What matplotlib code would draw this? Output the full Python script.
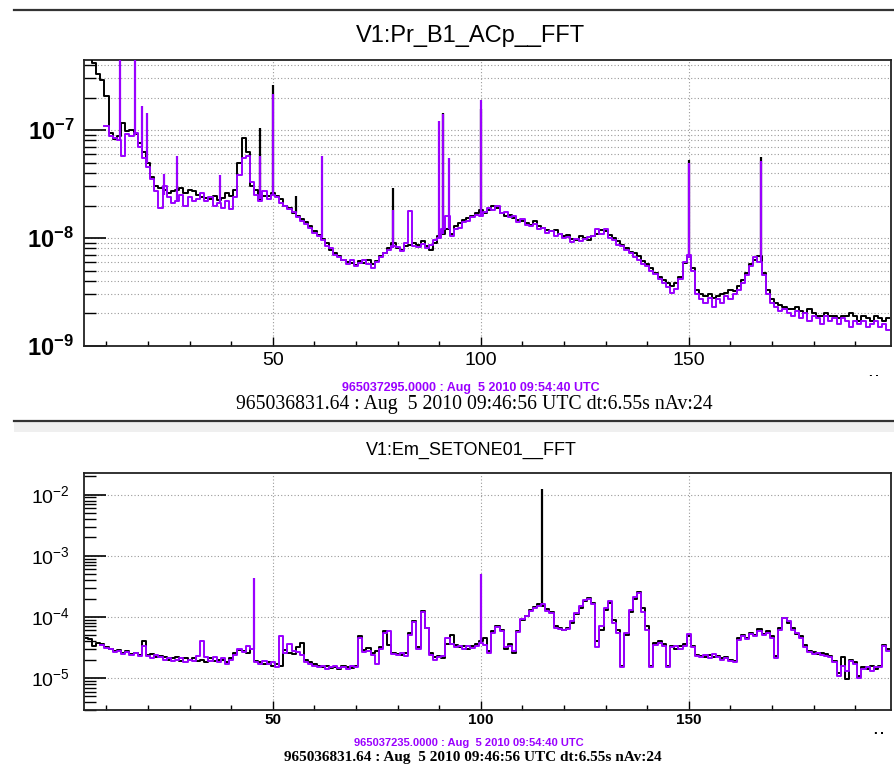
import numpy as np
import matplotlib
matplotlib.use('Agg')
import matplotlib.pyplot as plt
from matplotlib.lines import Line2D
from matplotlib.patches import Rectangle
from matplotlib.ticker import LogLocator, FixedLocator, FuncFormatter, NullFormatter
from matplotlib.transforms import Bbox, TransformedBbox

plt.rcParams['font.family'] = ['Liberation Sans', 'DejaVu Sans']
plt.rcParams['mathtext.fontset'] = 'custom'
plt.rcParams['mathtext.rm'] = 'Liberation Sans'
plt.rcParams['mathtext.bf'] = 'Liberation Sans:bold'

PURPLE = '#9a00ff'
W, H = 895, 766
nan = np.nan

# frequency bins (Hz), one per Hz from 5 to 198
freq = np.arange(5, 199)

# ---- V1:Pr_B1_ACp__FFT, in units of 1e-8 ----
pr_black = [
    48, 46, 42, 33, 29, 20.7, 9.4, 8.2, 8.8, 11.7,            # 5-14
    9.8, 10.1, 9.1, 7.6, 6.2, 5.0, 3.7, 3.0, 2.9, 2.8,        # 15-24
    2.6, 2.7, 2.8, 2.9, 2.6, 2.8, 2.7, 2.5, 2.4, 2.35,        # 25-34
    2.3, 2.45, 2.25, 2.35, 2.6, 2.45, 2.8, 5.0, 8.5, 6.2,     # 35-44
    3.0, 2.8, 2.3, 2.45, 2.45, 2.6, 2.45, 2.3, 1.97, 1.9,     # 45-54
    1.71, 1.6, 1.5, 1.4, 1.3, 1.15, 1.07, 0.97, 0.9, 0.78,    # 55-64
    0.73, 0.68, 0.63, 0.6, 0.59, 0.56, 0.61, 0.59, 0.63, 0.58,  # 65-74
    0.61, 0.68, 0.73, 0.8, 0.9, 0.81, 0.78, 0.84, 0.87, 0.9,  # 75-84
    0.87, 0.93, 0.84, 0.78, 0.9, 1.04, 1.1, 1.2, 1.1, 1.28,   # 85-94
    1.38, 1.48, 1.53, 1.6, 1.7, 1.83, 1.7, 1.83, 1.97, 1.9,   # 95-104
    1.7, 1.6, 1.65, 1.53, 1.48, 1.43, 1.38, 1.33, 1.43, 1.28,  # 105-114
    1.24, 1.19, 1.15, 1.19, 1.1, 1.04, 1.07, 0.98, 0.96, 1.04,  # 115-124
    1.0, 0.96, 1.04, 1.1, 1.19, 1.15, 1.07, 1.0, 0.93, 0.87,  # 125-134
    0.81, 0.75, 0.73, 0.68, 0.61, 0.57, 0.53, 0.47, 0.44, 0.41,  # 135-144
    0.38, 0.36, 0.38, 0.44, 0.59, 0.68, 0.53, 0.33, 0.3, 0.29,  # 145-154
    0.3, 0.28, 0.29, 0.3, 0.31, 0.33, 0.32, 0.36, 0.41, 0.47,  # 155-164
    0.57, 0.63, 0.68, 0.47, 0.33, 0.27, 0.25, 0.24, 0.23, 0.22,  # 165-174
    0.22, 0.23, 0.21, 0.2, 0.22, 0.2, 0.19, 0.19, 0.2, 0.19,  # 175-184
    0.19, 0.18, 0.19, 0.19, 0.2, 0.19, 0.17, 0.19, 0.18, 0.17,  # 185-194
    0.19, 0.18, 0.17, 0.18,                                    # 195-198
]
pr_purple = [
    nan, nan, nan, nan, nan, 11.0, 8.8, 8.5, 8.0, 5.7,
    9.1, 8.8, 9.4, 7.0, 5.5, 4.5, 3.5, 2.7, 1.9, 3.0,
    2.4, 2.1, 2.2, 2.5, 2.0, 2.4, 2.2, 2.3, 2.6, 2.2,
    2.4, 2.0, 2.1, 1.9, 2.2, 1.85, 2.4, 3.8, 5.5, 5.8,
    3.3, 2.5, 2.2, 2.7, 2.3, 2.5, 2.4, 2.1, 2.0, 1.85,
    1.75, 1.55, 1.45, 1.35, 1.25, 1.12, 1.04, 0.95, 0.85, 0.8,
    0.7, 0.66, 0.62, 0.58, 0.62, 0.55, 0.59, 0.62, 0.57, 0.53,
    0.6, 0.66, 0.72, 0.78, 0.85, 0.82, 0.76, 0.9, 1.77, 0.85,
    0.82, 0.88, 0.8, 0.86, 0.95, 1.0, 1.2, 1.6, 1.05, 1.2,
    1.25, 1.4, 1.45, 1.55, 1.65, 1.6, 1.75, 1.9, 1.8, 2.0,
    1.7, 1.75, 1.55, 1.6, 1.4, 1.5, 1.33, 1.3, 1.35, 1.2,
    1.25, 1.12, 1.15, 1.05, 1.1, 1.0, 1.02, 0.92, 0.97, 0.93,
    0.98, 1.02, 1.05, 1.2, 1.1, 1.2, 1.0, 0.95, 0.87, 0.84,
    0.78, 0.72, 0.67, 0.63, 0.58, 0.55, 0.5, 0.46, 0.42, 0.38,
    0.35, 0.31, 0.34, 0.42, 0.6, 0.7, 0.5, 0.3, 0.27, 0.25,
    0.28, 0.23, 0.27, 0.25, 0.29, 0.27, 0.3, 0.33, 0.38, 0.45,
    0.55, 0.66, 0.6, 0.45, 0.3, 0.25, 0.23, 0.21, 0.22, 0.2,
    0.19, 0.21, 0.18, 0.2, 0.17, 0.19, 0.18, 0.16, 0.19, 0.17,
    0.18, 0.16, 0.18, 0.17, 0.15, 0.17, 0.16, 0.17, 0.15, 0.16,
    0.17, 0.15, 0.16, 0.14,
]
# narrow lines: (freq Hz, floor, peak), same units
pr_black_lines = [(46.8, 2.4, 10.5), (50.0, 2.6, 26), (55.5, 1.7, 2.44),
                  (78.9, 0.85, 2.9), (90.9, 1.1, 14.5), (100.0, 1.8, 15.6),
                  (150.0, 0.65, 5.3), (167.3, 0.65, 5.6)]
pr_purple_lines = [(13.3, 8.0, 60), (16.8, 9.0, 60), (18.6, 7.0, 16.7),
                   (19.8, 5.0, 14.5), (23.8, 2.5, 3.9), (27.0, 2.2, 5.7),
                   (37.3, 2.1, 3.8), (46.8, 2.3, 5.7), (50.0, 2.5, 21.4),
                   (61.9, 1.0, 5.7), (78.9, 0.8, 1.83), (90.0, 1.0, 12.0),
                   (90.9, 1.1, 14.0), (92.3, 1.2, 5.5), (100.0, 1.6, 19.0),
                   (150.0, 0.65, 5.0), (167.3, 0.6, 5.2)]

# ---- V1:Em_SETONE01__FFT, in units of 1e-5 ----
em_black = [
    4.6, 4.3, 3.4, 3.7, 3.6, 3.2, 3.0, 2.8, 2.9, 2.6,         # 5-14
    2.8, 2.5, 2.6, 2.4, 4.0, 2.4, 2.5, 2.2, 2.3, 2.2,         # 15-24
    2.0, 2.1, 2.2, 1.9, 2.1, 2.0, 2.1, 1.9, 2.0, 1.8,         # 25-34
    2.1, 1.9, 2.0, 2.0, 1.8, 2.1, 2.6, 2.9, 2.8, 2.6,         # 35-44
    3.0, 1.9, 1.8, 1.7, 1.8, 1.6, 1.7, 1.6, 2.9, 2.6,         # 45-54
    2.5, 3.2, 3.8, 2.0, 1.8, 1.7, 1.6, 1.5, 1.6, 1.45,        # 55-64
    1.5, 1.4, 1.6, 1.5, 1.45, 1.55, 4.9, 2.9, 3.1, 2.6,       # 65-74
    2.8, 3.2, 5.9, 3.5, 2.6, 2.5, 2.4, 2.6, 5.5, 8.6,         # 75-84
    3.2, 12.4, 6.7, 2.6, 2.2, 2.3, 2.1, 3.6, 5.0, 3.5,        # 85-94
    3.2, 3.4, 3.0, 3.3, 3.6, 4.0, 4.6, 2.8, 5.9, 7.0,         # 95-104
    6.2, 3.0, 3.6, 2.6, 5.9, 9.0, 10.5, 13.0, 14.5, 16.0,     # 105-114
    15.0, 13.5, 12.0, 7.0, 6.5, 6.0, 6.5, 8.0, 11.0, 14.0,    # 115-124
    18.0, 20.5, 17.0, 4.0, 6.0, 13.0, 17.0, 9.0, 6.0, 1.6,    # 125-134
    5.0, 12.0, 20.0, 26.0, 14.0, 7.0, 1.6, 3.8, 4.1, 3.6,     # 135-144
    1.6, 3.4, 3.0, 3.3, 3.6, 4.8, 3.4, 2.4, 2.3, 2.2,         # 145-154
    2.4, 2.2, 2.3, 2.1, 2.2, 2.0, 1.9, 4.5, 5.0, 4.6,         # 155-164
    5.5, 5.0, 6.3, 5.2, 5.8, 4.8, 2.3, 6.5, 9.5, 8.0,         # 165-174
    6.5, 5.2, 4.8, 3.5, 2.8, 2.7, 2.5, 2.6, 2.5, 2.3,         # 175-184
    1.9, 1.2, 2.2, 0.96, 2.0, 1.8, 1.1, 1.5, 1.4, 1.6,        # 185-194
    1.4, 1.6, 3.5, 3.0,                                        # 195-198
]
em_purple = [
    nan, nan, nan, nan, 3.5, 3.1, 3.0, 2.7, 2.8, 2.5,
    2.7, 2.4, 2.6, 2.3, 3.3, 2.3, 2.1, 2.4, 2.2, 2.0,
    2.1, 1.9, 2.0, 2.1, 1.8, 2.0, 1.9, 2.3, 4.0, 2.2,
    1.9, 2.2, 1.8, 2.1, 1.7, 2.0, 2.4, 3.0, 2.7, 3.3,
    3.0, 1.8, 1.7, 1.9, 1.7, 1.8, 1.5, 4.9, 2.6, 3.6,
    2.8, 2.7, 2.4, 1.8, 1.7, 1.6, 1.5, 1.55, 1.4, 1.5,
    1.6, 1.45, 1.5, 1.4, 1.6, 1.5, 4.6, 2.7, 2.8, 2.4,
    1.7, 3.0, 5.5, 5.9, 2.5, 2.4, 2.6, 2.3, 5.0, 8.4,
    3.0, 12.0, 6.5, 2.4, 2.0, 2.2, 2.3, 4.5, 3.6, 3.2,
    3.4, 3.0, 3.3, 3.1, 3.4, 3.8, 3.5, 2.6, 5.5, 6.8,
    5.8, 3.2, 3.4, 2.8, 5.6, 9.2, 10.2, 12.5, 14.0, 15.0,
    16.0, 12.5, 11.5, 6.6, 6.3, 6.1, 6.3, 8.5, 11.5, 15.0,
    19.0, 19.5, 16.0, 3.2, 7.0, 14.0, 18.0, 8.0, 5.5, 1.5,
    5.5, 13.0, 21.0, 25.0, 12.0, 6.0, 1.5, 3.5, 3.8, 3.4,
    1.5, 3.2, 3.3, 3.0, 3.4, 5.2, 3.2, 2.3, 2.2, 2.4,
    2.1, 2.5, 2.2, 2.0, 2.1, 1.9, 1.8, 4.2, 4.8, 4.4,
    5.2, 4.8, 5.8, 5.0, 5.5, 4.5, 2.1, 6.0, 9.7, 8.5,
    6.0, 5.5, 4.5, 3.2, 2.7, 2.5, 2.6, 2.4, 2.3, 2.2,
    1.8, 1.1, 1.6, 1.3, 1.9, 1.7, 1.0, 1.4, 1.5, 1.3,
    1.5, 1.5, 3.3, 2.8,
]
em_black_lines = [(114.8, 15.0, 1260)]
em_purple_lines = [(45.4, 3.0, 43.8), (100.0, 3.8, 50.9)]

xticks_major = [50, 100, 150]
xticks_minor = list(range(10, 200, 10))


def fy(px):
    return 1 - px / H


def clipped_text(fig, x, y, s, y_cut, **kw):
    t = fig.text(x / W, fy(y), s, **kw)
    box = Bbox([[0, fy(y_cut)], [1, 1]])
    t.set_clip_box(TransformedBbox(box, fig.transFigure))
    t.set_clip_on(True)
    return t


def draw_panel(ax, black, purple, black_lines, purple_lines, scale, ylim,
               minor_grid, ylab_bold, ylab_size, xlab_bold, xlab_size, ypad, xpad):
    # ROOT draws the spectra as histograms
    ax.plot(freq, np.array(black) * scale, color='black', lw=1.4,
            drawstyle='steps-mid', zorder=3)
    for f, lo, hi in black_lines:
        ax.vlines(f, lo * scale, hi * scale, color='black', lw=1.6, zorder=3)
    ax.plot(freq, np.array(purple) * scale, color=PURPLE, lw=1.4,
            drawstyle='steps-mid', zorder=4)
    for f, lo, hi in purple_lines:
        ax.vlines(f, lo * scale, hi * scale, color=PURPLE, lw=1.6, zorder=4)

    ax.set_yscale('log')
    ax.set_xlim(4.6, 198.6)
    ax.set_ylim(*ylim)

    ax.xaxis.set_major_locator(FixedLocator(xticks_major))
    ax.xaxis.set_minor_locator(FixedLocator(xticks_minor))
    ax.yaxis.set_major_locator(LogLocator(base=10, numticks=20))
    ax.yaxis.set_minor_locator(LogLocator(base=10, subs=np.arange(2, 10), numticks=20))
    ax.yaxis.set_minor_formatter(NullFormatter())
    if ylab_bold:
        fmt = FuncFormatter(lambda v, p: r'$\mathbf{10^{%d}}$' % round(np.log10(v)))
    else:
        fmt = FuncFormatter(lambda v, p: r'$10^{%d}$' % round(np.log10(v)))
    ax.yaxis.set_major_formatter(fmt)

    ax.tick_params(axis='y', which='major', direction='in', length=16, width=1.2,
                   labelsize=ylab_size, pad=ypad)
    ax.tick_params(axis='y', which='minor', direction='in', length=8.5, width=1.0)
    ax.tick_params(axis='x', which='major', direction='in', length=6.5, width=1.0,
                   labelsize=xlab_size, pad=xpad)
    ax.tick_params(axis='x', which='minor', direction='in', length=3.8, width=1.0)
    for lab in ax.get_xticklabels():
        lab.set_fontweight('bold' if xlab_bold else 'normal')

    dots = dict(color='#9a9a9a', linestyle=(0, (1, 2)), linewidth=0.8)
    ax.grid(True, which='major', axis='x', **dots)
    ax.grid(True, which='major', axis='y', **dots)
    if minor_grid:
        ax.grid(True, which='minor', axis='y', **dots)
    for sp in ax.spines.values():
        sp.set_linewidth(1.3)
        sp.set_color('#222222')


fig = plt.figure(figsize=(W / 100, H / 100), dpi=100)

# window decorations
fig.add_artist(Line2D([14 / W, 1], [fy(10), fy(10)], transform=fig.transFigure,
                      color='#333333', lw=1.6))
fig.add_artist(Rectangle((14 / W, fy(432)), 1, 11 / H, transform=fig.transFigure,
                         facecolor='#efefef', edgecolor='none'))
fig.add_artist(Line2D([14 / W, 1], [fy(420.5), fy(420.5)], transform=fig.transFigure,
                      color='#333333', lw=1.6))

# top panel
ax1 = fig.add_axes([84 / W, fy(346), (891 - 84) / W, (346 - 60) / H])
draw_panel(ax1, pr_black, pr_purple, pr_black_lines, pr_purple_lines, 1e-8,
           (1e-9, 4.45e-7), True, True, 17, False, 14, 7, 4)
fig.text(470 / W, fy(36), 'V1:Pr_B1_ACp__FFT', ha='center', va='center', fontsize=17)
fig.text(471 / W, fy(388), '965037295.0000 : Aug  5 2010 09:54:40 UTC', ha='center',
         va='center', fontsize=9, fontweight='bold', color=PURPLE)
fig.text(474 / W, fy(404), '965036831.64 : Aug  5 2010 09:46:56 UTC dt:6.55s nAv:24',
         ha='center', va='center', fontsize=14.2, family='Liberation Serif')
clipped_text(fig, 877, 381, 'Hz', 376, ha='center', va='center', fontsize=10,
             fontweight='bold')

# bottom panel
ax2 = fig.add_axes([84 / W, fy(710), (891 - 84) / W, (710 - 472.7) / H])
draw_panel(ax2, em_black, em_purple, em_black_lines, em_purple_lines, 1e-5,
           (3.0e-6, 2.29e-2), False, False, 14, True, 11, 10, 2)
fig.text(471 / W, fy(450), 'V1:Em_SETONE01__FFT', ha='center', va='center', fontsize=13)
fig.text(469 / W, fy(743), '965037235.0000 : Aug  5 2010 09:54:40 UTC', ha='center',
         va='center', fontsize=8, fontweight='bold', color=PURPLE)
fig.text(473 / W, fy(757), '965036831.64 : Aug  5 2010 09:46:56 UTC dt:6.55s nAv:24',
         ha='center', va='center', fontsize=11, fontweight='bold', family='Liberation Serif')
clipped_text(fig, 882, 738, 'Hz', 734, ha='center', va='center', fontsize=10,
             fontweight='bold')

fig.savefig('out.png', dpi=100)
